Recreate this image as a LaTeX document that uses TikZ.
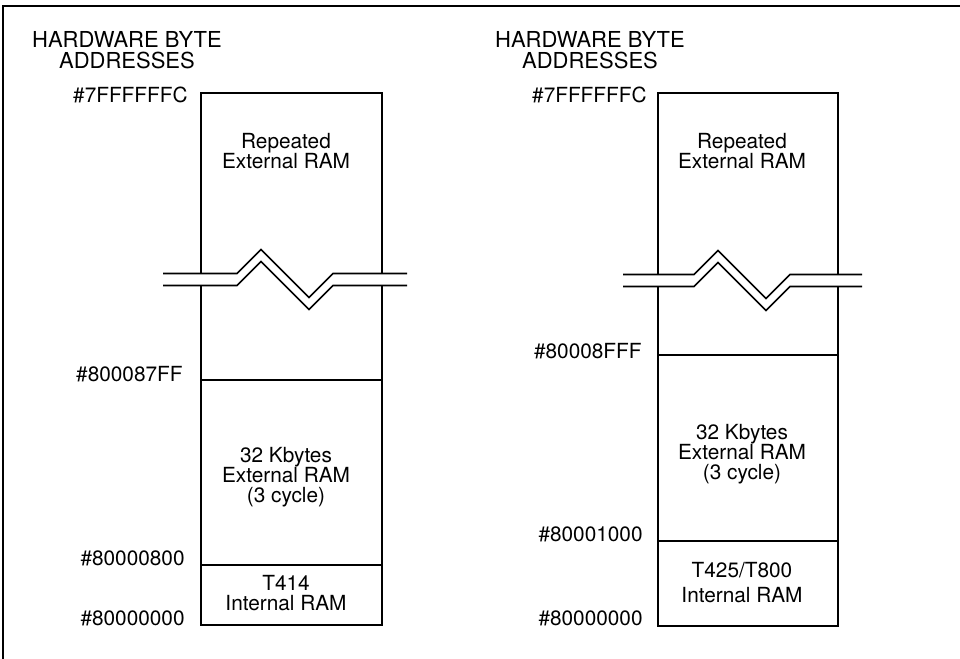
\documentclass[tikz,border=0pt]{standalone}
\usepackage{fontspec}
\setmainfont{TeX Gyre Heros}

\begin{document}
\begin{tikzpicture}[x=0.5pt, y=-0.5pt, every node/.style={inner sep=0pt, align=center, font=\fontsize{10.4}{10}\selectfont}, addr/.style={anchor=base east}, memtext/.style={anchor=base}, headtext/.style={anchor=base, font=\fontsize{11}{10.5}\selectfont}, memline/.style={line width=1pt}, cutline/.style={line width=0.8pt}]
\useasboundingbox (0,0) rectangle (960,659);
% frame
\draw[line width=0.8pt] (3,659) -- (3,6) -- (960,6);

% left map (T414)
\node[headtext] (headL) at (127,68) {HARDWARE BYTE\\ADDRESSES};
\draw[memline] (200.5,273.5) -- (200.5,93) -- (381.5,93) -- (381.5,273.5);
\draw[memline] (200.5,285.5) -- (200.5,625) -- (381.5,625) -- (381.5,285.5);
\draw[memline] (200.5,379.5) -- (381.5,379.5);
\draw[memline] (200.5,565) -- (381.5,565);
\draw[cutline] (163,273.5) -- (237,273.5) -- (261,249.5) -- (309,297.5) -- (333,273.5) -- (407,273.5);
\draw[cutline] (163,285.5) -- (237,285.5) -- (261,261.5) -- (309,309.5) -- (333,285.5) -- (407,285.5);
\node[memtext] (repL) at (286,168) {Repeated\\External RAM};
\node[memtext] (extL) at (286,502) {32 Kbytes\\External RAM\\(3 cycle)};
\node[memtext] (intL) at (286,610) {T414\\Internal RAM};
\node[addr] (topL) at (188,102) {\#7FFFFFFC};
\node[addr] (extendL) at (183,381) {\#800087FF};
\node[addr] (extbaseL) at (185,565) {\#80000800};
\node[addr] (baseL) at (185,625) {\#80000000};

% right map (T425/T800)
\node[headtext] (headR) at (590,68) {HARDWARE BYTE\\ADDRESSES};
\draw[memline] (657.5,274.5) -- (657.5,93) -- (837.5,93) -- (837.5,274.5);
\draw[memline] (657.5,286.5) -- (657.5,626) -- (837.5,626) -- (837.5,286.5);
\draw[memline] (657.5,355) -- (837.5,355);
\draw[memline] (657.5,541) -- (837.5,541);
\draw[cutline] (623,274.5) -- (694,274.5) -- (718,250.5) -- (766,298.5) -- (790,274.5) -- (862,274.5);
\draw[cutline] (623,286.5) -- (694,286.5) -- (718,262.5) -- (766,310.5) -- (790,286.5) -- (862,286.5);
\node[memtext] (repR) at (742,168) {Repeated\\External RAM};
\node[memtext] (extR) at (742,479) {32 Kbytes\\External RAM\\(3 cycle)};
\node[memtext] (intR) at (742,602) {T425/T800\\[2.5pt]Internal RAM};
\node[addr] (topR) at (647,102) {\#7FFFFFFC};
\node[addr] (extendR) at (642,358) {\#80008FFF};
\node[addr] (extbaseR) at (643,541) {\#80001000};
\node[addr] (baseR) at (643,625) {\#80000000};
\end{tikzpicture}
\end{document}
